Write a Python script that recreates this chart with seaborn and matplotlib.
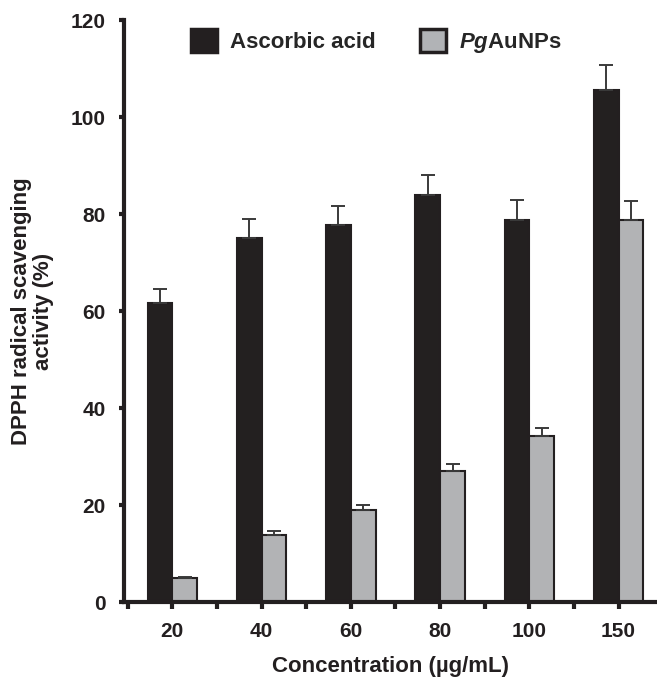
import numpy as np
import pandas as pd
import matplotlib
matplotlib.use('Agg')
import matplotlib.pyplot as plt
from matplotlib.patches import Patch
from matplotlib.ticker import FixedLocator
import seaborn as sns

"""Data read off the figure"""
concentrations = ['20', '40', '60', '80', '100', '150']
ascorbic_mean = [61.6, 75.1, 77.7, 83.9, 78.8, 105.5]
ascorbic_err = [3.0, 3.9, 4.0, 4.2, 4.0, 5.3]
pg_mean = [4.9, 13.8, 19.0, 27.0, 34.2, 78.7]
pg_err = [0.3, 0.8, 1.1, 1.4, 1.7, 4.0]
series = ['Ascorbic acid', 'PgAuNPs']

df = pd.DataFrame({
    'conc': concentrations * 2,
    'activity': ascorbic_mean + pg_mean,
    'err': ascorbic_err + pg_err,
    'series': [series[0]] * 6 + [series[1]] * 6,
})

sns.set_style('ticks')
plt.rcParams['font.family'] = ['Liberation Sans', 'DejaVu Sans']
plt.rcParams['font.weight'] = 'bold'
plt.rcParams['mathtext.fontset'] = 'custom'
plt.rcParams['mathtext.it'] = 'Liberation Sans:italic:bold'
plt.rcParams['mathtext.rm'] = 'Liberation Sans:bold'

dark = '#231f20'
grey = '#b1b3b6'

fig = plt.figure(figsize=(6.57, 6.78), dpi=100)
ax = fig.add_axes([0.189, 0.112, 0.811, 0.8585])

sns.barplot(data=df, x='conc', y='activity', hue='series', order=concentrations,
            hue_order=series, palette=[dark, grey], width=0.555, errorbar=None,
            edgecolor=dark, linewidth=1.5, legend=False, ax=ax)

# error bars (upper only), placed on the bars seaborn drew
for patch_group, s in zip(ax.containers, series):
    sub = df[df['series'] == s]
    xs = [p.get_x() + p.get_width() / 2 for p in patch_group]
    ys = sub['activity'].values
    e = sub['err'].values
    ax.errorbar(xs, ys, yerr=[np.zeros_like(e), e], fmt='none', ecolor='#3a3a3a',
                elinewidth=1.4, capsize=5.3, capthick=1.4, zorder=1)

ax.set_ylim(0, 120)
ax.set_xlim(-0.54, 5.43)
ax.set_yticks(range(0, 121, 20))
ax.xaxis.set_minor_locator(FixedLocator(np.arange(-0.5, 5.0, 1.0)))

for side in ['left', 'bottom']:
    ax.spines[side].set_linewidth(3)
    ax.spines[side].set_color(dark)
sns.despine(ax=ax)

ax.tick_params(axis='both', which='both', direction='out', width=3, color=dark,
               labelsize=15, labelcolor=dark)
ax.tick_params(axis='x', which='major', length=5, pad=9)
ax.tick_params(axis='x', which='minor', length=5)
ax.tick_params(axis='y', length=3.3, pad=10)

ax.set_xlabel('Concentration (µg/mL)', fontsize=16, fontweight='bold', color=dark, labelpad=11)
ax.set_ylabel('DPPH radical scavenging\nactivity (%)', fontsize=16, fontweight='bold',
              color=dark, labelpad=12, linespacing=1.05)

handles = [Patch(facecolor=dark, edgecolor=dark, linewidth=2.5),
           Patch(facecolor=grey, edgecolor=dark, linewidth=2.5)]
ax.legend(handles, ['Ascorbic acid', r'$\it{Pg}$AuNPs'], loc='center',
          bbox_to_anchor=(0.473, 0.962), ncol=2, frameon=False, fontsize=16,
          handlelength=1.17, handleheight=1.17, columnspacing=2.0, handletextpad=0.59,
          borderpad=0, borderaxespad=0)

fig.savefig('out.png', dpi=100)
